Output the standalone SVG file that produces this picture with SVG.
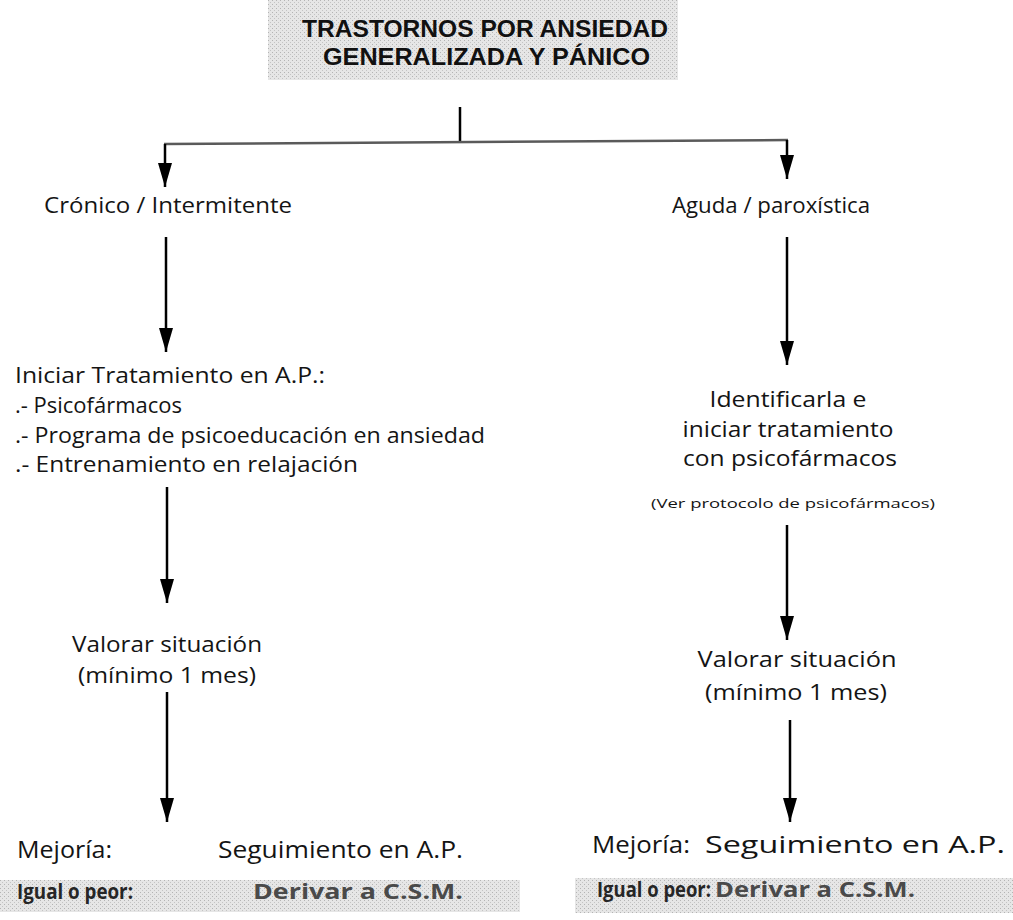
<svg xmlns="http://www.w3.org/2000/svg" width="1013" height="920" viewBox="0 0 1013 920">
  <defs>
    <marker id="head" markerUnits="userSpaceOnUse" markerWidth="24" markerHeight="14" refX="24" refY="7" viewBox="0 0 24 14" orient="auto">
      <path d="M0 0 L24 7 L0 14 Z" fill="#000"/>
    </marker>
    <pattern id="stipple" width="4" height="4" patternUnits="userSpaceOnUse">
      <rect width="4" height="4" fill="#e6e6e6"/>
      <rect x="0" y="0" width="1" height="1" fill="#b4b4b4"/>
      <rect x="2" y="2" width="1" height="1" fill="#c4c4c4"/>
    </pattern>
  </defs>
  <style>
    text { font-family: "Open Sans", "Noto Sans", "Liberation Sans", sans-serif; fill: #141414; }
    .body { font-size: 22px; }
    .big { font-size: 23px; }
    .small { font-size: 13px; }
    .title { font-family: "Liberation Sans", Arial, sans-serif; font-size: 24px; font-weight: bold; fill: #111; }
    .bold { font-size: 21px; font-weight: bold; fill: #262626; }
    .grey { fill: #4a4a4a; }
    .mid { text-anchor: middle; }
    .line { stroke: #000; stroke-width: 2.5; fill: none; }
    .arrow { stroke: #000; stroke-width: 2.5; fill: none; marker-end: url(#head); }
    .rail { stroke: #5a5a5a; stroke-width: 2.5; fill: none; }
  </style>

  <rect width="1013" height="920" fill="#fff"/>

  <!-- title -->
  <g id="title">
    <rect x="268" y="0" width="410" height="80" fill="url(#stipple)"/>
    <text class="title" x="302" y="37" textLength="366" lengthAdjust="spacingAndGlyphs">TRASTORNOS POR ANSIEDAD</text>
    <text class="title" x="323" y="65" textLength="327" lengthAdjust="spacingAndGlyphs">GENERALIZADA Y PÁNICO</text>
  </g>

  <!-- connectors -->
  <g id="connectors">
    <path class="line" d="M460 107 V143"/>
    <path class="rail" d="M164 144 L788 140"/>
    <path class="arrow" d="M165 144 V187"/>
    <path class="arrow" d="M787 140 V179"/>
    <path class="arrow" d="M166 237 V352"/>
    <path class="arrow" d="M787 237 V365"/>
    <path class="arrow" d="M167 487 V603"/>
    <path class="arrow" d="M787 525 V640"/>
    <path class="arrow" d="M167 692 V822"/>
    <path class="arrow" d="M790 720 V822"/>
  </g>

  <!-- left branch -->
  <g id="cronico">
    <text class="body" x="44" y="213" textLength="248" lengthAdjust="spacingAndGlyphs">Crónico / Intermitente</text>
  </g>
  <g id="iniciar-ap">
    <text class="body" x="15" y="383" textLength="310" lengthAdjust="spacingAndGlyphs">Iniciar Tratamiento en A.P.:</text>
    <text class="body" x="15" y="413" textLength="167" lengthAdjust="spacingAndGlyphs">.- Psicofármacos</text>
    <text class="body" x="15" y="443" textLength="470" lengthAdjust="spacingAndGlyphs">.- Programa de psicoeducación en ansiedad</text>
    <text class="body" x="15" y="472" textLength="343" lengthAdjust="spacingAndGlyphs">.- Entrenamiento en relajación</text>
  </g>
  <g id="valorar-izq">
    <text class="body mid" x="167" y="652" textLength="190" lengthAdjust="spacingAndGlyphs">Valorar situación</text>
    <text class="body mid" x="167" y="683" textLength="178" lengthAdjust="spacingAndGlyphs">(mínimo 1 mes)</text>
  </g>
  <g id="resultado-izq">
    <text class="big" x="17" y="858" textLength="95" lengthAdjust="spacingAndGlyphs">Mejoría:</text>
    <text class="big" x="218" y="858" textLength="245" lengthAdjust="spacingAndGlyphs">Seguimiento en A.P.</text>
  </g>
  <g id="derivar-izq">
    <rect x="0" y="880" width="520" height="32" fill="url(#stipple)"/>
    <text class="bold" x="17" y="899" textLength="116" lengthAdjust="spacingAndGlyphs">Igual o peor:</text>
    <text class="bold grey" x="253" y="899" textLength="210" lengthAdjust="spacingAndGlyphs">Derivar a C.S.M.</text>
  </g>

  <!-- right branch -->
  <g id="aguda">
    <text class="body" x="672" y="213" textLength="198" lengthAdjust="spacingAndGlyphs">Aguda / paroxística</text>
  </g>
  <g id="identificar">
    <text class="body mid" x="788" y="407" textLength="157" lengthAdjust="spacingAndGlyphs">Identificarla e</text>
    <text class="body mid" x="788" y="437" textLength="211" lengthAdjust="spacingAndGlyphs">iniciar tratamiento</text>
    <text class="body mid" x="790" y="466" textLength="214" lengthAdjust="spacingAndGlyphs">con psicofármacos</text>
    <text class="small mid" x="793" y="508" textLength="284" lengthAdjust="spacingAndGlyphs">(Ver protocolo de psicofármacos)</text>
  </g>
  <g id="valorar-der">
    <text class="body mid" x="797" y="667" textLength="199" lengthAdjust="spacingAndGlyphs">Valorar situación</text>
    <text class="body mid" x="796" y="700" textLength="182" lengthAdjust="spacingAndGlyphs">(mínimo 1 mes)</text>
  </g>
  <g id="resultado-der">
    <text class="big" x="592" y="853" textLength="98" lengthAdjust="spacingAndGlyphs">Mejoría:</text>
    <text class="big" x="705" y="853" textLength="300" lengthAdjust="spacingAndGlyphs">Seguimiento en A.P.</text>
  </g>
  <g id="derivar-der">
    <rect x="575" y="878" width="438" height="35" fill="url(#stipple)"/>
    <text class="bold" x="597" y="897" textLength="114" lengthAdjust="spacingAndGlyphs">Igual o peor:</text>
    <text class="bold grey" x="715" y="897" textLength="200" lengthAdjust="spacingAndGlyphs">Derivar a C.S.M.</text>
  </g>
</svg>
